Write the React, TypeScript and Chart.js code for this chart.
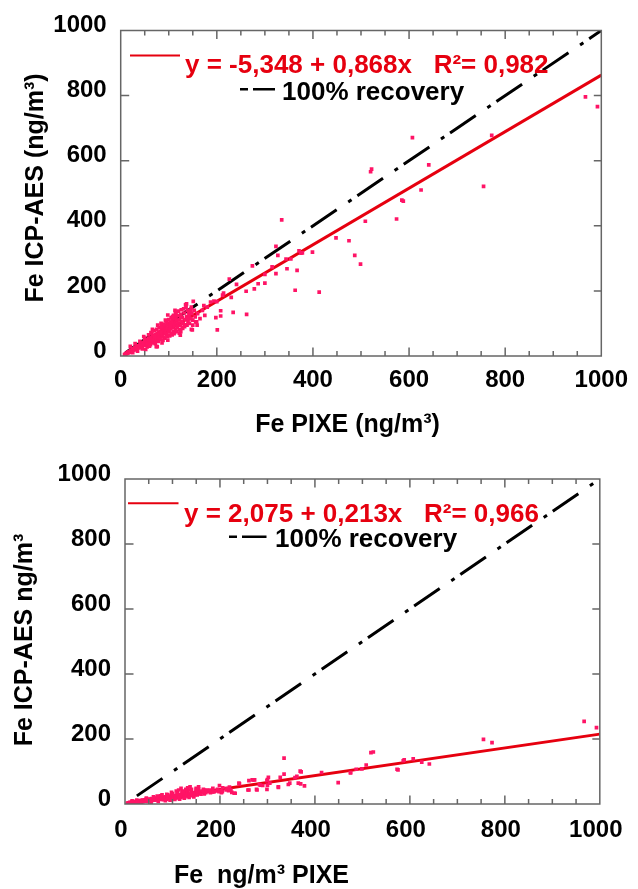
import React, { useEffect, useRef } from 'react';
import { Chart, registerables } from 'chart.js';

Chart.register(...registerables);

// ---------------- data ----------------
const axisTicks = [0, 200, 400, 600, 800, 1000];
const tickMarks = [50, 100, 150, 200, 250, 300, 350, 400, 450, 500, 550, 600, 650, 700, 750, 800, 850, 900, 950];

const topPoints: [number, number][] = [
  [8, 4], [10, 7], [12, 9], [14, 8], [15, 12], [17, 13], [18, 11], [20, 16], [21, 18], [22, 14], [24, 20], [25, 17],
  [26, 22], [28, 21], [29, 25], [30, 19], [31, 27], [32, 24], [33, 22], [34, 29], [35, 26], [36, 31], [37, 28], [38, 25],
  [39, 33], [40, 30], [41, 35], [42, 27], [43, 38], [44, 33], [45, 30], [46, 40], [47, 36], [48, 42], [49, 33], [50, 45],
  [51, 39], [52, 47], [53, 36], [54, 44], [55, 50], [56, 41], [57, 48], [58, 53], [59, 45], [60, 38], [61, 55], [62, 49],
  [63, 44], [64, 58], [65, 52], [66, 47], [67, 60], [68, 55], [69, 50], [70, 63], [71, 57], [72, 46], [73, 66], [74, 60],
  [75, 54], [76, 70], [77, 62], [78, 57], [79, 73], [80, 66], [81, 52], [82, 76], [83, 68], [84, 61], [85, 80], [86, 72],
  [87, 64], [88, 84], [89, 75], [90, 58], [91, 88], [92, 78], [93, 70], [94, 92], [95, 82], [96, 66], [97, 96], [98, 86],
  [99, 74], [100, 100], [101, 90], [102, 79], [103, 104], [104, 84], [105, 70], [106, 95], [107, 110], [108, 88], [109, 99],
  [110, 76], [111, 115], [112, 93], [113, 104], [114, 82], [115, 120], [116, 97], [117, 108], [118, 88], [119, 124],
  [120, 101], [122, 112], [124, 95], [125, 128], [127, 106], [128, 118], [130, 100], [132, 132], [134, 112], [135, 96],
  [137, 121], [139, 140], [140, 105], [142, 125], [145, 114], [148, 130], [150, 110],
  [20, 30], [25, 10], [30, 38], [35, 15], [40, 45], [45, 22], [50, 55], [55, 28], [58, 65], [62, 35], [65, 70], [68, 40],
  [70, 78], [72, 38], [75, 82], [78, 45], [80, 88], [82, 50], [85, 92], [88, 48], [90, 98], [92, 55], [95, 105], [97, 60],
  [100, 112], [102, 62], [105, 118], [107, 65], [110, 125], [112, 72], [114, 135], [116, 75], [120, 138], [122, 80],
  [126, 142], [128, 88], [131, 145], [133, 90], [136, 150], [138, 95], [141, 135], [143, 100], [147, 150], [150, 95],
  [153, 140], [155, 120], [160, 130], [165, 115], [170, 140], [175, 125], [180, 150], [60, 30], [48, 60], [66, 82],
  [84, 72], [93, 110], [103, 92], [113, 140], [52, 20], [63, 72], [77, 95], [86, 40],
  [98, 126], [108, 121], [115, 111], [125, 121], [135, 157], [139, 116], [156, 105], [159, 95], [135, 95], [129, 85],
  [118, 90], [74, 29], [111, 69], [125, 75], [149, 80], [98, 49], [71, 59], [84, 100], [115, 131], [146, 116], [122, 70],
  [607, 671], [522, 574], [520, 566], [585, 479], [588, 476], [574, 421], [509, 414], [448, 363], [475, 354], [487, 309],
  [499, 282], [413, 196], [335, 418], [323, 337], [327, 309], [399, 319], [371, 323], [378, 317], [375, 316], [344, 298],
  [354, 298], [346, 268], [367, 263], [363, 202], [323, 253], [315, 274], [300, 251], [300, 224], [286, 222], [274, 277],
  [278, 206], [261, 199], [241, 220], [226, 236], [230, 180], [234, 134], [262, 128], [214, 193], [212, 187], [208, 139],
  [208, 123], [198, 118], [201, 80], [200, 167], [194, 169], [187, 166], [173, 155], [158, 105], [151, 168], [137, 160],
  [146, 141], [147, 82], [124, 64], [76, 29], [992, 766], [967, 796], [772, 678], [641, 587], [755, 521], [625, 510],
];
const topFit: [number, number][] = [[10, 3], [1000, 863]];
const topIdentity: [number, number][] = [[10, 10], [1000, 1000]];
const topEquation = 'y = -5,348 + 0,868x   R\u00B2= 0,982';
const topXTitle = 'Fe PIXE (ng/m\u00B3)';
const topYTitle = 'Fe ICP-AES (ng/m\u00B3)';

const bottomPoints: [number, number][] = [
  [5, 2], [7, 3], [9, 3], [10, 5], [12, 4], [14, 6], [15, 3], [17, 5], [18, 7], [20, 6], [21, 4], [23, 8], [24, 6],
  [26, 9], [27, 7], [28, 5], [30, 10], [31, 8], [33, 6], [34, 11], [35, 9], [37, 12], [38, 7], [40, 10], [41, 13],
  [43, 9], [44, 14], [45, 11], [47, 8], [48, 13], [50, 15], [51, 10], [53, 14], [54, 12], [56, 17], [57, 11], [59, 15],
  [60, 13], [62, 18], [63, 12], [65, 16], [66, 14], [68, 19], [69, 13], [71, 17], [72, 15], [74, 20], [75, 14], [77, 18],
  [78, 16], [80, 21], [81, 13], [83, 19], [84, 17], [86, 22], [87, 15], [89, 20], [90, 18], [92, 24], [93, 16], [95, 21],
  [96, 19], [98, 25], [99, 17], [100, 22], [102, 20], [104, 27], [105, 18], [107, 23], [108, 21], [110, 29], [111, 19],
  [113, 25], [115, 22], [117, 30], [118, 20], [120, 26], [122, 24], [124, 32], [126, 22], [128, 28], [130, 25], [132, 34],
  [134, 24], [136, 30], [138, 27], [140, 36], [142, 26], [145, 31], [148, 29], [150, 38], [152, 28], [155, 33],
  [15, 10], [25, 12], [35, 4], [45, 18], [55, 6], [60, 22], [70, 8], [75, 25], [85, 10], [90, 28], [95, 12], [100, 32],
  [105, 14], [110, 35], [115, 15], [120, 38], [125, 18], [130, 42], [135, 20], [140, 45], [145, 22], [150, 48], [160, 30],
  [165, 45], [175, 38], [185, 48], [195, 45], [205, 38], [215, 48], [220, 52], [108, 40], [98, 36], [88, 30], [78, 28],
  [68, 24],
  [335, 141], [369, 101], [414, 97], [449, 66], [475, 97], [499, 108], [378, 56], [365, 64], [370, 62], [344, 60],
  [347, 64], [327, 82], [323, 51], [299, 45], [300, 58], [300, 75], [285, 58], [277, 45], [268, 74], [273, 74], [259, 43],
  [241, 62], [232, 33], [225, 36], [218, 41], [203, 35], [194, 40], [202, 42], [198, 38], [180, 35], [186, 38], [167, 31],
  [170, 35], [155, 36], [162, 40], [168, 42], [152, 40], [155, 46], [147, 34], [150, 37],
  [967, 254], [993, 235], [755, 199], [773, 189], [607, 139], [586, 133], [588, 136], [625, 129], [641, 123], [573, 107],
  [575, 105], [518, 158], [523, 160], [508, 120], [487, 107], [475, 96],
  [371, 99], [335, 92], [362, 85], [358, 81], [302, 82], [299, 72], [323, 53], [261, 72], [271, 74], [261, 43], [278, 43],
  [283, 60], [290, 57], [305, 64], [240, 64], [230, 33], [223, 43], [213, 43], [206, 50], [199, 57], [188, 38], [184, 37],
  [178, 43], [165, 37], [172, 43], [144, 34], [150, 45], [155, 53], [134, 43], [137, 53], [127, 34], [123, 37], [113, 43],
  [118, 48], [123, 40], [128, 45], [132, 50],
];
const bottomFit: [number, number][] = [[3, 3], [1000, 215]];
const bottomIdentity: [number, number][] = [[25, 25], [1000, 1000]];
const bottomEquation = 'y = 2,075 + 0,213x   R\u00B2= 0,966';
const bottomXTitle = 'Fe  ng/m\u00B3 PIXE';
const bottomYTitle = 'Fe ICP-AES ng/m\u00B3';

const recoveryLabel = '100% recovery';

// ---------------- styles ----------------
const FONT = "'Liberation Sans', Arial, Helvetica, sans-serif";
const PINK = '#ff1466';
const RED = '#e6000f';
const FRAME = '#666666';
const DASH = [31, 14, 4, 7];

type PanelCfg = {
  top: number;
  height: number;
  padTop: number;
  padRight: number;
  yWidth: number;
  xHeight: number;
  xTickPad: number;
  xLabelOffset: number;
  yLabelOffset: number;
  points: [number, number][];
  fit: [number, number][];
  identity: [number, number][];
  equation: string;
  xTitle: string;
  yTitle: string;
  xTitlePos: [number, number];
  yTitlePos: [number, number];
  redLine: [number, number, number];
  eqPos: [number, number];
  sample: [number, number, number];
  recPos: [number, number];
};

const topCfg: PanelCfg = {
  top: 0, height: 445, padTop: 30.5, padRight: 30, yWidth: 120.7, xHeight: 89,
  xTickPad: 10, xLabelOffset: 0, yLabelOffset: -5,
  points: topPoints, fit: topFit, identity: topIdentity, equation: topEquation,
  xTitle: topXTitle, yTitle: topYTitle,
  xTitlePos: [347.5, 432], yTitlePos: [43, 188],
  redLine: [130, 180, 55.5], eqPos: [185, 73.3],
  sample: [240, 275, 89.3], recPos: [282, 100],
};

const bottomCfg: PanelCfg = {
  top: 445, height: 444, padTop: 34, padRight: 28.5, yWidth: 125, xHeight: 85,
  xTickPad: 11.5, xLabelOffset: -4, yLabelOffset: -5,
  points: bottomPoints, fit: bottomFit, identity: bottomIdentity, equation: bottomEquation,
  xTitle: bottomXTitle, yTitle: bottomYTitle,
  xTitlePos: [261.5, 438], yTitlePos: [31.7, 195],
  redLine: [128, 178.5, 58.3], eqPos: [184, 76.7],
  sample: [229, 266.5, 91.7], recPos: [275, 102.3],
};

const toXY = (arr: [number, number][]) => arr.map(([x, y]) => ({ x, y }));

function makeDecor(cfg: PanelCfg) {
  return {
    id: 'decor',
    afterDraw(chart: any) {
      const { ctx, chartArea: a, scales } = chart;
      const xs = scales.x;
      const ys = scales.y;
      ctx.save();
      // frame
      ctx.strokeStyle = FRAME;
      ctx.lineWidth = 1.5;
      ctx.setLineDash([]);
      ctx.strokeRect(a.left, a.top, a.right - a.left, a.bottom - a.top);
      // x ticks (inward, bottom and top)
      ctx.beginPath();
      for (const v of tickMarks) {
        const px = xs.getPixelForValue(v);
        const len = v % 200 === 0 ? 8.5 : 5;
        ctx.moveTo(px, a.bottom);
        ctx.lineTo(px, a.bottom - len);
        ctx.moveTo(px, a.top);
        ctx.lineTo(px, a.top + len);
      }
      // y ticks (inward, left and right)
      for (const v of axisTicks) {
        if (v === 0 || v === 1000) continue;
        const py = ys.getPixelForValue(v);
        ctx.moveTo(a.left, py);
        ctx.lineTo(a.left + 8.5, py);
        ctx.moveTo(a.right, py);
        ctx.lineTo(a.right - 7.5, py);
      }
      ctx.stroke();

      // axis titles
      ctx.fillStyle = '#000';
      ctx.font = `bold 25px ${FONT}`;
      ctx.textAlign = 'center';
      ctx.textBaseline = 'alphabetic';
      ctx.fillText(cfg.xTitle, cfg.xTitlePos[0], cfg.xTitlePos[1]);
      ctx.save();
      ctx.translate(cfg.yTitlePos[0], cfg.yTitlePos[1]);
      ctx.rotate(-Math.PI / 2);
      ctx.fillText(cfg.yTitle, 0, 0);
      ctx.restore();

      // legend
      ctx.strokeStyle = RED;
      ctx.lineWidth = 2;
      ctx.beginPath();
      ctx.moveTo(cfg.redLine[0], cfg.redLine[2]);
      ctx.lineTo(cfg.redLine[1], cfg.redLine[2]);
      ctx.stroke();
      ctx.font = `bold 26px ${FONT}`;
      ctx.textAlign = 'left';
      ctx.fillStyle = RED;
      ctx.fillText(cfg.equation, cfg.eqPos[0], cfg.eqPos[1]);

      const [s0, s1, sy] = cfg.sample;
      ctx.strokeStyle = '#000';
      ctx.lineWidth = 2.5;
      ctx.beginPath();
      ctx.moveTo(s0, sy);
      ctx.lineTo(s0 + 8, sy);
      ctx.moveTo(s0 + 13, sy);
      ctx.lineTo(s1, sy);
      ctx.stroke();
      ctx.fillStyle = '#000';
      ctx.fillText(recoveryLabel, cfg.recPos[0], cfg.recPos[1]);
      ctx.restore();
    },
  };
}

function Panel({ cfg }: { cfg: PanelCfg }) {
  const ref = useRef<HTMLCanvasElement>(null);
  useEffect(() => {
    const canvas = ref.current;
    if (!canvas) return;
    const tickFont = { family: FONT, size: 24, weight: 'bold' as const };
    const chart = new Chart(canvas, {
      type: 'scatter',
      data: {
        datasets: [
          {
            data: toXY(cfg.points),
            pointStyle: 'rect',
            pointRadius: 2.6,
            pointBorderWidth: 0,
            backgroundColor: PINK,
            borderColor: PINK,
            order: 0,
          },
          {
            data: toXY(cfg.fit),
            showLine: true,
            borderColor: RED,
            borderWidth: 3,
            pointRadius: 0,
            order: 1,
          },
          {
            data: toXY(cfg.identity),
            showLine: true,
            borderColor: '#000',
            borderWidth: 3,
            borderDash: DASH,
            borderCapStyle: 'butt',
            pointRadius: 0,
            order: 2,
          },
        ] as any,
      },
      options: {
        responsive: false,
        animation: false,
        devicePixelRatio: 1,
        layout: { padding: { top: cfg.padTop, right: cfg.padRight, left: 0, bottom: 0 } },
        plugins: { legend: { display: false }, tooltip: { enabled: false } },
        scales: {
          x: {
            type: 'linear',
            min: 0,
            max: 1000,
            afterBuildTicks: (s: any) => { s.ticks = axisTicks.map((v) => ({ value: v })); },
            afterFit: (s: any) => { s.height = cfg.xHeight; },
            grid: { display: false, drawTicks: false },
            border: { display: false },
            ticks: {
              font: tickFont, color: '#000', padding: cfg.xTickPad, labelOffset: cfg.xLabelOffset,
              maxRotation: 0, autoSkip: false, callback: (v: any) => String(v),
            },
          },
          y: {
            type: 'linear',
            min: 0,
            max: 1000,
            afterBuildTicks: (s: any) => { s.ticks = axisTicks.map((v) => ({ value: v })); },
            afterFit: (s: any) => { s.width = cfg.yWidth; },
            grid: { display: false, drawTicks: false },
            border: { display: false },
            ticks: {
              font: tickFont, color: '#000', padding: 14, labelOffset: cfg.yLabelOffset,
              autoSkip: false, callback: (v: any) => String(v),
            },
          },
        },
      } as any,
      plugins: [makeDecor(cfg)],
    });
    return () => chart.destroy();
  }, [cfg]);
  return (
    <canvas
      ref={ref}
      width={638}
      height={cfg.height}
      style={{ position: 'absolute', left: 0, top: cfg.top, width: 638, height: cfg.height }}
    />
  );
}

export default function App() {
  return (
    <div style={{ position: 'absolute', left: 0, top: 0, width: 638, height: 889, background: '#fff' }}>
      <Panel cfg={topCfg} />
      <Panel cfg={bottomCfg} />
    </div>
  );
}
